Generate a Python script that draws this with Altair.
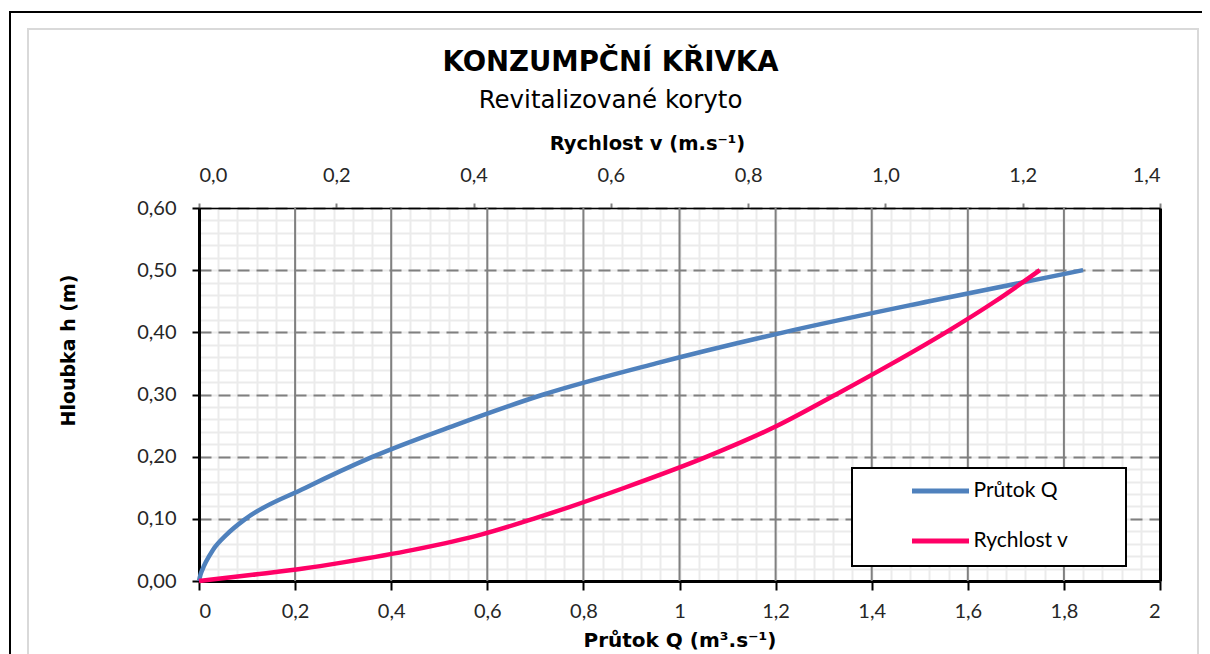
import altair as alt
import pandas as pd

# ---------------- data ----------------
series_names = ["Průtok Q", "Rychlost v"]
series_colors = ["#4F81BD", "#FF0066"]

h_vals = [0, 0.01, 0.02, 0.03, 0.05, 0.075, 0.10, 0.15, 0.20, 0.25, 0.30, 0.35, 0.40, 0.45, 0.50]
q_vals = [0, 0.003, 0.008, 0.014, 0.029, 0.058, 0.097, 0.222, 0.362, 0.531, 0.717, 0.951, 1.217, 1.52, 1.84]
v_vals = [0, 0.078, 0.152, 0.21, 0.312, 0.412, 0.487, 0.62, 0.74, 0.843, 0.928, 1.01, 1.088, 1.16, 1.225]

q_major_ticks = [0, 0.2, 0.4, 0.6, 0.8, 1.0, 1.2, 1.4, 1.6, 1.8, 2.0]
q_inner_grid = [0.2, 0.4, 0.6, 0.8, 1.0, 1.2, 1.4, 1.6, 1.8]
q_minor_ticks = [round(i * 0.04, 2) for i in range(51)]
h_major_ticks = [0, 0.1, 0.2, 0.3, 0.4, 0.5, 0.6]
h_minor_ticks = [round(i * 0.02, 2) for i in range(31)]
v_major_ticks = [0, 0.2, 0.4, 0.6, 0.8, 1.0, 1.2, 1.4]

title_text = "KONZUMPČNÍ KŘIVKA"
subtitle_text = "Revitalizované koryto"
x_title = "Průtok Q (m³.s⁻¹)"
x2_title = "Rychlost v (m.s⁻¹)"
y_title = "Hloubka h (m)"

# ---------------- tables ----------------
df_q = pd.DataFrame({"Q": q_vals, "h": h_vals, "series": series_names[0]})
df_v = pd.DataFrame({"v": v_vals, "h": h_vals, "series": series_names[1]})
df_grid = pd.DataFrame({"Q": q_inner_grid})
df_one = pd.DataFrame({"k": [0]})

FONT = "Lato"
TFONT = "DejaVu Sans"
W, H = 961, 373
GRID_DARK = "#808080"
GRID_LIGHT = "#EBEBEB"

qscale = alt.Scale(domain=[0, 2], nice=False, zero=False)
vscale = alt.Scale(domain=[0, 1.4], nice=False, zero=False)
hscale = alt.Scale(domain=[0, 0.6], nice=False, zero=False)

# widen the legend box on the right (trailing blanks kept by a zero-width char)
legend_label_expr = "datum.label + '" + " " * 8 + "\u200b'"

color = alt.Color(
    "series:N",
    scale=alt.Scale(domain=series_names, range=series_colors),
    legend=alt.Legend(
        title=None, orient="none", legendX=653, legendY=260, direction="vertical",
        fillColor="white", strokeColor="black", padding=14.5,
        symbolType="stroke", symbolSize=3249, symbolStrokeWidth=5,
        symbolOffset=43, labelOffset=2, clipHeight=17, rowPadding=28,
        labelFont=FONT, labelFontSize=21, labelColor="#000",
        labelExpr=legend_label_expr,
    ),
)

# frames around the chart area (decoration)
outer_frame = alt.Chart(df_one).mark_rect(filled=False, stroke="black", strokeWidth=2).encode(
    x=alt.value(-189), x2=alt.value(1016), y=alt.value(-196), y2=alt.value(492)
)
inner_frame = alt.Chart(df_one).mark_rect(filled=False, stroke="#D9D9D9", strokeWidth=2).encode(
    x=alt.value(-171), x2=alt.value(999), y=alt.value(-179), y2=alt.value(492)
)

# minor grid
minor = alt.Chart(df_q).mark_point(opacity=0).encode(
    x=alt.X("Q:Q", scale=qscale, axis=alt.Axis(
        orient="bottom", values=q_minor_ticks, grid=True, gridColor=GRID_LIGHT, gridWidth=2,
        labels=False, ticks=False, domain=False, title=None)),
    y=alt.Y("h:Q", scale=hscale, axis=alt.Axis(
        orient="left", values=h_minor_ticks, grid=True, gridColor=GRID_LIGHT, gridWidth=2,
        labels=False, ticks=False, domain=False, title=None)),
)

# major horizontal (dashed) grid
major_h = alt.Chart(df_q).mark_point(opacity=0).encode(
    x=alt.X("Q:Q", scale=qscale, axis=None),
    y=alt.Y("h:Q", scale=hscale, axis=alt.Axis(
        orient="left", values=h_major_ticks, grid=True, gridColor=GRID_DARK, gridWidth=2,
        gridDash=[12, 7], labels=False, ticks=False, domain=False, title=None)),
)

# major vertical grid
major_v = alt.Chart(df_grid).mark_rule(color=GRID_DARK, strokeWidth=2).encode(
    x=alt.X("Q:Q", scale=qscale, axis=None)
)

blue = alt.Chart(df_q).mark_line(strokeWidth=4.5, interpolate="monotone").encode(
    x=alt.X("Q:Q", scale=qscale, axis=alt.Axis(
        orient="bottom", values=q_major_ticks, grid=False,
        domainColor="black", domainWidth=3, tickColor="black", tickWidth=2, tickSize=9,
        labelExpr="replace(format(datum.value, '.1~f'), '.', ',')",
        labelFont=FONT, labelFontSize=20, labelColor="#262626", labelPadding=11,
        title=x_title, titleFont=TFONT, titleFontSize=20, titleFontWeight="bold",
        titleColor="#000", titleBaseline="middle", titleY=59)),
    y=alt.Y("h:Q", scale=hscale, axis=alt.Axis(
        orient="left", values=h_major_ticks, grid=False,
        domainColor="black", domainWidth=3, tickColor="black", tickWidth=2, tickSize=7,
        labelExpr="replace(format(datum.value, '.2f'), '.', ',')",
        labelFont=FONT, labelFontSize=20, labelColor="#262626", labelPadding=16,
        title=y_title, titleFont=TFONT, titleFontSize=19, titleFontWeight="bold",
        titleColor="#000", titleAngle=270, titleBaseline="middle", titleAlign="center",
        titleX=-131, titleY=142)),
    color=color,
)

red = alt.Chart(df_v).mark_line(strokeWidth=4.5, interpolate="monotone").encode(
    x=alt.X("v:Q", scale=vscale, axis=alt.Axis(
        orient="top", values=v_major_ticks, grid=False,
        domainColor="black", domainWidth=1.5, tickColor=GRID_DARK, tickWidth=2, tickSize=5,
        labelExpr="replace(format(datum.value, '.1f'), '.', ',')",
        labelFont=FONT, labelFontSize=20, labelColor="#262626", labelPadding=18,
        title=x2_title, titleFont=TFONT, titleFontSize=19.5, titleFontWeight="bold",
        titleColor="#000", titleBaseline="middle", titleAlign="center", titleX=448, titleY=-65)),
    y=alt.Y("h:Q", scale=hscale, axis=alt.Axis(
        orient="right", labels=False, ticks=False, grid=False,
        domainColor="black", domainWidth=3, title=None)),
    color=color,
)

chart = alt.layer(outer_frame, inner_frame, minor, major_h, major_v, blue, red).resolve_scale(
    x="independent"
).resolve_axis(
    x="independent", y="independent"
).properties(
    width=W, height=H,
    autosize=alt.AutoSizeParams(type="none"),
    padding={"left": 191, "top": 200, "right": 42, "bottom": 100},
    title=alt.TitleParams(
        text=title_text, subtitle=subtitle_text, anchor="middle", dx=-69,
        font=TFONT, fontSize=27.5, fontWeight="bold", color="#000",
        subtitleFont=TFONT, subtitleFontSize=24.5, subtitleColor="#000",
        subtitlePadding=12, offset=-101,
    ),
).configure_view(stroke=None).configure(background="white")

# thicker legend border, if this Vega-Lite version accepts it
try:
    _c = chart.configure_legend(strokeWidth=2)
    _c.to_dict()
    chart = _c
except Exception:
    pass

chart.save("out.html", embed_options={"renderer": "svg", "actions": False})
